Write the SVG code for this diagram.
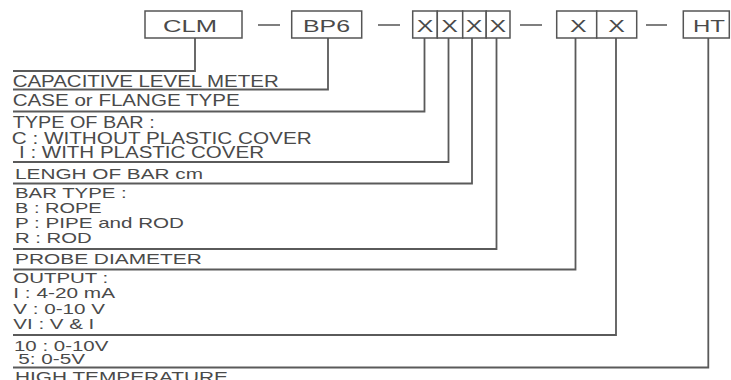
<svg xmlns="http://www.w3.org/2000/svg" width="731" height="380" viewBox="0 0 731 380">
<style>
.bx{fill:#fff;stroke:#555;stroke-width:1.5}
.cn{fill:none;stroke:#5a5a5a;stroke-width:1.8}
.sep{stroke:#555;stroke-width:1.5}
text{font-family:"Liberation Sans",Arial,sans-serif;fill:#4a4a4a}
.bt{font-size:16px}
.l1{font-size:16px}
.l2{font-size:15px}
</style>
<rect width="731" height="380" fill="#fff"/>
<g id="separators">
<line class="sep" x1="258" y1="25" x2="280" y2="25"/>
<line class="sep" x1="378" y1="25" x2="400" y2="25"/>
<line class="sep" x1="520" y1="25" x2="542" y2="25"/>
<line class="sep" x1="646" y1="25" x2="667" y2="25"/>
</g>
<g id="connectors">
<polyline class="cn" points="195,38 195,71 13,71"/>
<polyline class="cn" points="328,38 328,89.5 13,89.5"/>
<polyline class="cn" points="424.5,38 424.5,111.5 13,111.5"/>
<polyline class="cn" points="448.5,38 448.5,162 13,162"/>
<polyline class="cn" points="472,38 472,183.5 13,183.5"/>
<polyline class="cn" points="496.5,38 496.5,249 13,249"/>
<polyline class="cn" points="575.5,38 575.5,269.5 13,269.5"/>
<polyline class="cn" points="616,38 616,335 13,335"/>
<polyline class="cn" points="708.3,38 708.3,367.5 13,367.5"/>
</g>
<g id="node-clm"><rect class="bx" x="145" y="11" width="97" height="27"/><text class="bt" x="163" y="31.7" textLength="54" lengthAdjust="spacingAndGlyphs">CLM</text></g>
<g id="node-bp6"><rect class="bx" x="291.7" y="11" width="70" height="27"/><text class="bt" x="303" y="31.7" textLength="47" lengthAdjust="spacingAndGlyphs">BP6</text></g>
<g id="node-x1"><rect class="bx" x="412.7" y="11" width="24.6" height="27"/><text class="bt" x="416.7" y="31.7" textLength="16.6" lengthAdjust="spacingAndGlyphs">X</text></g>
<g id="node-x2"><rect class="bx" x="437.3" y="11" width="25.4" height="27"/><text class="bt" x="441.3" y="31.7" textLength="16.6" lengthAdjust="spacingAndGlyphs">X</text></g>
<g id="node-x3"><rect class="bx" x="462.7" y="11" width="23.5" height="27"/><text class="bt" x="465.7" y="31.7" textLength="16.6" lengthAdjust="spacingAndGlyphs">X</text></g>
<g id="node-x4"><rect class="bx" x="486.2" y="11" width="23.8" height="27"/><text class="bt" x="489.5" y="31.7" textLength="16.6" lengthAdjust="spacingAndGlyphs">X</text></g>
<g id="node-x5"><rect class="bx" x="556.7" y="11" width="40" height="27"/><text class="bt" x="570" y="31.7" textLength="16.6" lengthAdjust="spacingAndGlyphs">X</text></g>
<g id="node-x6"><rect class="bx" x="596.7" y="11" width="40" height="27"/><text class="bt" x="608.3" y="31.7" textLength="16.6" lengthAdjust="spacingAndGlyphs">X</text></g>
<g id="node-ht"><rect class="bx" x="683.3" y="11" width="46" height="27"/><text class="bt" x="693" y="31.7" textLength="32" lengthAdjust="spacingAndGlyphs">HT</text></g>
<g id="labels">
<text class="l1" x="12.7" y="86.7" textLength="266" lengthAdjust="spacingAndGlyphs">CAPACITIVE LEVEL METER</text>
<text class="l1" x="12.7" y="106" textLength="227" lengthAdjust="spacingAndGlyphs">CASE or FLANGE TYPE</text>
<text class="l1" x="12.7" y="128.3" textLength="142" lengthAdjust="spacingAndGlyphs">TYPE OF BAR :</text>
<text class="l1" x="11.7" y="144.3" textLength="300" lengthAdjust="spacingAndGlyphs">C : WITHOUT PLASTIC COVER</text>
<text class="l1" x="19" y="158" textLength="245" lengthAdjust="spacingAndGlyphs">I : WITH PLASTIC COVER</text>
<text class="l2" x="15" y="179.3" textLength="188" lengthAdjust="spacingAndGlyphs">LENGH OF BAR cm</text>
<text class="l2" x="15" y="198.3" textLength="111.7" lengthAdjust="spacingAndGlyphs">BAR TYPE :</text>
<text class="l2" x="15" y="213.3" textLength="86.7" lengthAdjust="spacingAndGlyphs">B : ROPE</text>
<text class="l2" x="15" y="228.3" textLength="169" lengthAdjust="spacingAndGlyphs">P : PIPE and ROD</text>
<text class="l2" x="15" y="243.3" textLength="76.7" lengthAdjust="spacingAndGlyphs">R : ROD</text>
<text class="l2" x="15" y="264.3" textLength="186.7" lengthAdjust="spacingAndGlyphs">PROBE DIAMETER</text>
<text class="l2" x="13.3" y="283.3" textLength="95" lengthAdjust="spacingAndGlyphs">OUTPUT :</text>
<text class="l2" x="13.3" y="298.3" textLength="101.7" lengthAdjust="spacingAndGlyphs">I : 4-20 mA</text>
<text class="l2" x="13.3" y="314" textLength="91.7" lengthAdjust="spacingAndGlyphs">V : 0-10 V</text>
<text class="l2" x="13.3" y="329" textLength="81" lengthAdjust="spacingAndGlyphs">VI : V &amp; I</text>
<text class="l2" x="14" y="351" textLength="94.3" lengthAdjust="spacingAndGlyphs">10 : 0-10V</text>
<text class="l2" x="18.3" y="364.3" textLength="66.7" lengthAdjust="spacingAndGlyphs">5: 0-5V</text>
<text class="l2" x="15" y="381.5" textLength="213" lengthAdjust="spacingAndGlyphs">HIGH TEMPERATURE</text>
</g>
</svg>
